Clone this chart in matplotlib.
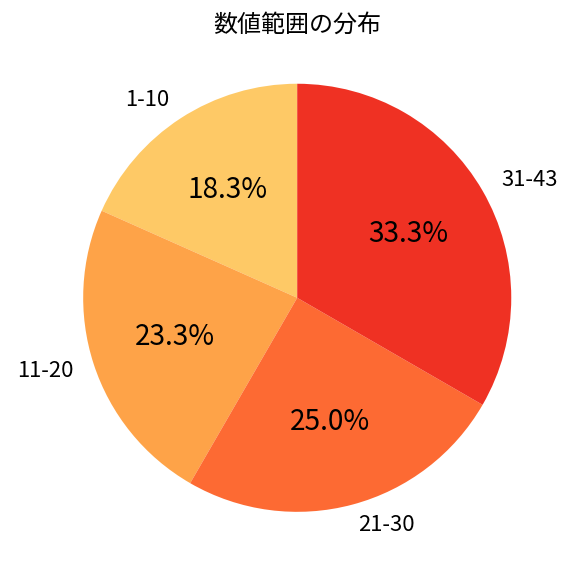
import matplotlib
matplotlib.use('Agg')
import matplotlib.pyplot as plt

plt.rcParams['font.family'] = ['Noto Sans CJK JP', 'DejaVu Sans']

# 数値範囲ごとの件数
labels = ['1-10', '11-20', '21-30', '31-43']
counts = [11, 14, 15, 20]
colors = ['#FEC966', '#FEA348', '#FD6A33', '#EF3123']

fig = plt.figure(figsize=(6, 6), dpi=96)
ax = fig.add_axes([0.0515, 0.0185, 0.929, 0.929])

wedges, texts, autotexts = ax.pie(counts, labels=labels, colors=colors,
                                  autopct='%1.1f%%', startangle=90,
                                  counterclock=True, pctdistance=0.6,
                                  labeldistance=1.1,
                                  textprops={'fontsize': 16.5})
for t in autotexts:
    t.set_fontsize(21)

ax.set_xlim(-1.25, 1.25)
ax.set_ylim(-1.25, 1.25)
ax.set_aspect('equal')

fig.text(0.516, 1 - 25 / 576, '数値範囲の分布', fontsize=18,
         ha='center', va='center')

plt.savefig('out.png')
